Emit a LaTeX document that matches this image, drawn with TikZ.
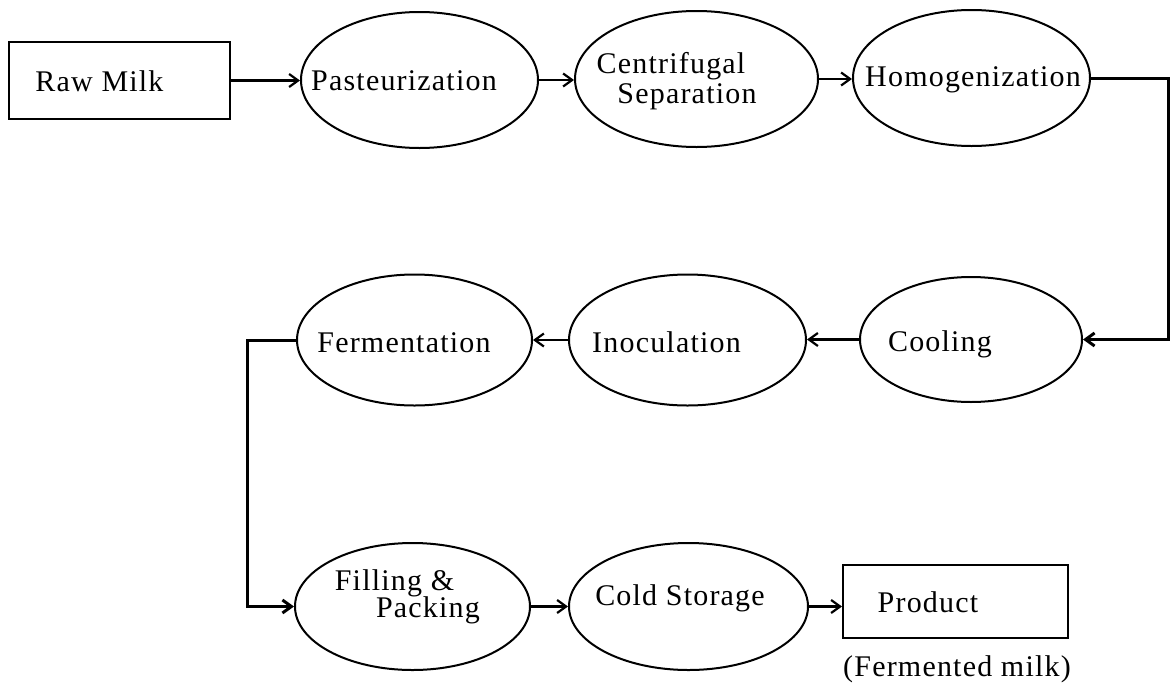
\documentclass[tikz,border=0pt]{standalone}
\usepackage{fontspec}
\setmainfont{Liberation Serif}[LetterSpace=4]
\usetikzlibrary{shapes.geometric,arrows.meta}

\begin{document}
\begin{tikzpicture}[x=1pt,y=-1pt,
  >={Straight Barb[length=9pt,width=13pt]},
  stage/.style={draw,ellipse,line width=2pt,inner sep=0pt},
  endbox/.style={draw,rectangle,line width=2pt,inner sep=0pt},
  lbl/.style={anchor=base,inner sep=0pt,font=\fontsize{30}{36}\selectfont},
  flow/.style={->,line width=2.2pt},
  elbow/.style={->,line width=3pt}]

\useasboundingbox (0,0) rectangle (1173,683);

% process stages
\node[endbox,minimum width=221pt,minimum height=77pt] (raw)  at (119.5,80.5) {};
\node[stage,minimum width=237pt,minimum height=136pt] (past) at (419.5,80) {};
\node[stage,minimum width=243pt,minimum height=136pt] (cent) at (696.5,79) {};
\node[stage,minimum width=237pt,minimum height=136pt] (homo) at (971.5,78) {};

\node[stage,minimum width=222pt,minimum height=125pt] (cool) at (971,339.5) {};
\node[stage,minimum width=237pt,minimum height=131pt] (inoc) at (687.5,340) {};
\node[stage,minimum width=235pt,minimum height=131pt] (ferm) at (414.5,340) {};

\node[stage,minimum width=235pt,minimum height=127pt] (fill) at (412.5,606.5) {};
\node[stage,minimum width=239pt,minimum height=127pt] (cold) at (688.5,606.5) {};
\node[endbox,minimum width=225pt,minimum height=73pt] (prod) at (955.5,601.5) {};

% labels
\node[lbl] (rawT)  at (99.5,91)  {Raw Milk};
\node[lbl] (pastT) at (404,90)   {Pasteurization};
\node[lbl] (centA) at (671,73)   {Centrifugal};
\node[lbl] (centB) at (687,103)  {Separation};
\node[lbl] (homoT) at (973,86)   {Homogenization};
\node[lbl] (coolT) at (940,351)  {Cooling};
\node[lbl] (inocT) at (666.5,352) {Inoculation};
\node[lbl] (fermT) at (404,352)  {Fermentation};
\node[lbl] (fillA) at (394.5,590) {Filling \&};
\node[lbl] (fillB) at (428,617)  {Packing};
\node[lbl] (coldT) at (680,605)  {Cold Storage};
\node[lbl] (prodT) at (928,612)  {Product};
\node[lbl] (prodN) at (957,676)  {(Fermented milk)};

% turning points of the return lines
\coordinate (rturn) at (1168,0);
\coordinate (lturn) at (247,0);

% connectors
\draw[flow] (raw.east) -- (raw.east -| past.west);
\draw[flow] (past.east) -- (past.east -| cent.west);
\draw[flow] (cent.east) -- (cent.east -| homo.west);
\draw[elbow] (homo.east) -- (rturn |- homo.east) -- (rturn |- cool.east) -- (cool.east);
\draw[flow] (cool.west) -- (cool.west -| inoc.east);
\draw[flow] (inoc.west) -- (inoc.west -| ferm.east);
\draw[elbow] (ferm.west) -- (lturn |- ferm.west) -- (lturn |- fill.west) -- (fill.west);
\draw[flow] (fill.east) -- (fill.east -| cold.west);
\draw[flow] (cold.east) -- (cold.east -| prod.west);
\end{tikzpicture}
\end{document}
